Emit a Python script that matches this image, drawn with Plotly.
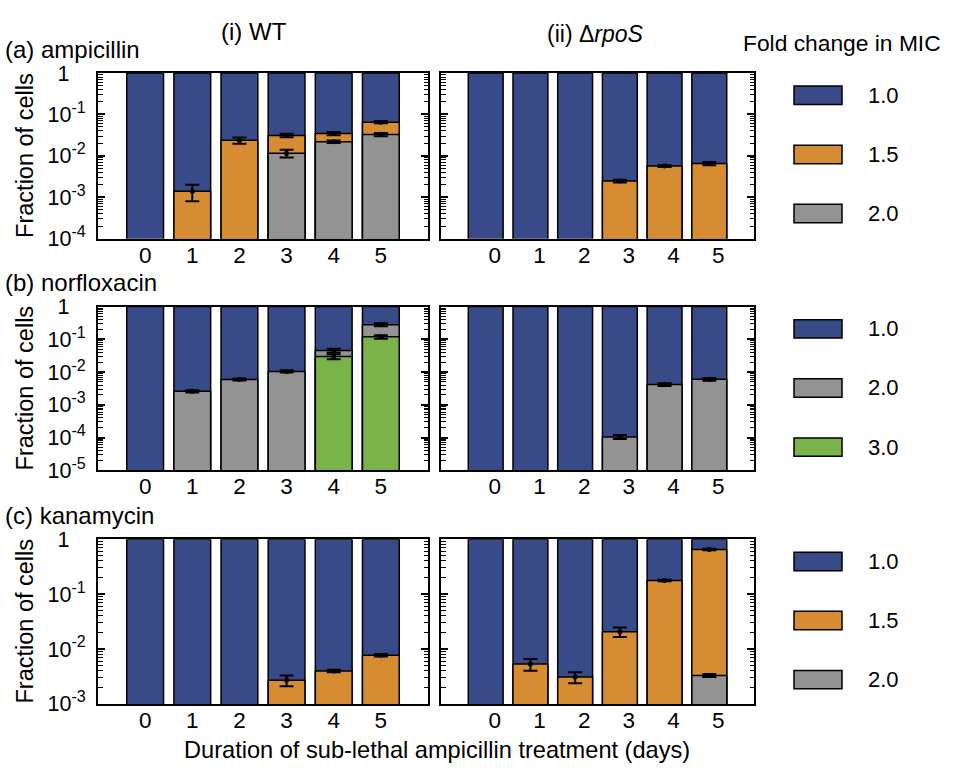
import plotly.graph_objects as go

days = [0, 1, 2, 3, 4, 5]
day_labels = ["0", "1", "2", "3", "4", "5"]

# fraction of cells with fold change >= 1.0 (i.e. all cells)
all_cells = [1, 1, 1, 1, 1, 1]

# (a) ampicillin: fraction of cells at or above each fold change in MIC
amp_wt_ge15 = [None, 0.0014, 0.0237, 0.031, 0.0346, 0.065]
amp_wt_ge15_err = [None, 0.0006, 0.004, 0.003, 0.003, 0.004]
amp_wt_ge20 = [None, None, None, 0.0116, 0.022, 0.0328]
amp_wt_ge20_err = [None, None, None, 0.0024, 0.0015, 0.003]
amp_rpos_ge15 = [None, None, None, 0.00247, 0.00567, 0.00655]
amp_rpos_ge15_err = [None, None, None, 0.0002, 0.0003, 0.0006]

# (b) norfloxacin
nor_wt_ge20 = [None, 0.00258, 0.00597, 0.0105, 0.0459, 0.281]
nor_wt_ge20_err = [None, 0.0002, 0.0004, 0.0008, 0.006, 0.03]
nor_wt_ge30 = [None, None, None, None, 0.0298, 0.119]
nor_wt_ge30_err = [None, None, None, None, 0.005, 0.015]
nor_rpos_ge20 = [None, None, None, 0.000105, 0.00416, 0.0060]
nor_rpos_ge20_err = [None, None, None, 0.000015, 0.0004, 0.0006]

# (c) kanamycin
kan_wt_ge15 = [None, None, None, 0.00269, 0.00398, 0.0077]
kan_wt_ge15_err = [None, None, None, 0.0006, 0.0002, 0.0004]
kan_rpos_ge15 = [None, 0.0053, 0.00308, 0.0205, 0.177, 0.648]
kan_rpos_ge15_err = [None, 0.0013, 0.0007, 0.004, 0.006, 0.02]
kan_rpos_ge20 = [None, None, None, None, None, 0.0033]
kan_rpos_ge20_err = [None, None, None, None, None, 0.0002]

row_titles = ["(a) ampicillin", "(b) norfloxacin", "(c) kanamycin"]
col_titles = ["(i) WT", "(ii) \u0394<i>rpoS</i>"]
row_levels = [["1.0", "1.5", "2.0"], ["1.0", "2.0", "3.0"], ["1.0", "1.5", "2.0"]]
row_decades = [4, 5, 3]
legend_title = "Fold change in MIC"
x_title = "Duration of sub-lethal ampicillin treatment (days)"
y_title = "Fraction of cells"

COLORS = {"1.0": "#384a88", "1.5": "#d68c32", "2.0": "#939393", "3.0": "#7bb34b"}
FONT = "Liberation Sans, Arial, Helvetica, sans-serif"

panels = [
    [  # row a
        [("1.5", amp_wt_ge15, amp_wt_ge15_err), ("2.0", amp_wt_ge20, amp_wt_ge20_err)],
        [("1.5", amp_rpos_ge15, amp_rpos_ge15_err)],
    ],
    [  # row b
        [("2.0", nor_wt_ge20, nor_wt_ge20_err), ("3.0", nor_wt_ge30, nor_wt_ge30_err)],
        [("2.0", nor_rpos_ge20, nor_rpos_ge20_err)],
    ],
    [  # row c
        [("1.5", kan_wt_ge15, kan_wt_ge15_err)],
        [("1.5", kan_rpos_ge15, kan_rpos_ge15_err), ("2.0", kan_rpos_ge20, kan_rpos_ge20_err)],
    ],
]

W, H = 971, 776
col_px = [(98, 428), (441, 754)]
row_px = [(64, 235), (305, 474), (545, 715)]


def px_x(v):
    return v / W


def px_y(v):
    return 1 - v / H


def font(size):
    return dict(size=size, color="black", family=FONT)


fig = go.Figure()
layout = {}
annotations = []
shapes = []

ax = 0
for r in range(3):
    for c in range(2):
        ax += 1
        xa = "x" if ax == 1 else f"x{ax}"
        ya = "y" if ax == 1 else f"y{ax}"
        # full bar (fold change 1.0)
        fig.add_trace(go.Bar(
            x=days, y=all_cells, xaxis=xa, yaxis=ya, width=0.78,
            marker=dict(color=COLORS["1.0"], line=dict(color="black", width=1.5)),
            showlegend=False, hoverinfo="skip"))
        for level, vals, errs in panels[r][c]:
            fig.add_trace(go.Bar(
                x=days, y=vals, xaxis=xa, yaxis=ya, width=0.78,
                marker=dict(color=COLORS[level], line=dict(color="black", width=1.5)),
                showlegend=False, hoverinfo="skip"))
        for level, vals, errs in panels[r][c]:
            fig.add_trace(go.Scatter(
                x=days, y=vals, xaxis=xa, yaxis=ya, mode="markers",
                marker=dict(color="black", size=5),
                error_y=dict(type="data", array=errs, color="black", thickness=2, width=7),
                showlegend=False, hoverinfo="skip"))

        nd = row_decades[r]
        tv = [10 ** (-k) for k in range(nd + 1)]
        tt = ["1\u00a0\u00a0\u2009"] + [
            f"10<sup><span style='font-size:16px'>-{k}</span></sup>" for k in range(1, nd + 1)]
        minor_vals = [m * 10 ** (-k) for k in range(1, nd + 1) for m in range(2, 10)]
        x0, x1 = col_px[c]
        y0, y1 = row_px[r]
        key_x = "xaxis" if ax == 1 else f"xaxis{ax}"
        key_y = "yaxis" if ax == 1 else f"yaxis{ax}"
        layout[key_x] = dict(
            domain=[px_x(x0), px_x(x1)], anchor=ya, range=[-1, 6],
            tickvals=days, ticktext=day_labels, ticks="",
            showline=True, linecolor="black", linewidth=2, mirror=True,
            showgrid=False, zeroline=False, fixedrange=True,
            tickfont=font(22.5),
            ticklabelshift=(9 if c == 1 else 0),
            ticklabelstandoff=-5,
        )
        layout[key_y] = dict(
            domain=[px_y(y1), px_y(y0)], anchor=xa, type="log", range=[-nd, 0],
            tickmode="array", tickvals=tv, ticktext=tt,
            showticklabels=(c == 0),
            ticks="inside", ticklen=7, tickwidth=1.5, tickcolor="black",
            minor=dict(tickmode="array", tickvals=minor_vals, ticks="inside", ticklen=4.5,
                       tickwidth=1.2, tickcolor="black", showgrid=False),
            showline=True, linecolor="black", linewidth=2, mirror="allticks",
            showgrid=False, zeroline=False, fixedrange=True,
            tickfont=font(21.5),
            ticklabelstandoff=6,
        )

    # row title
    annotations.append(dict(text=row_titles[r], x=px_x(3), y=px_y([40, 280, 521][r]),
                            xref="paper", yref="paper", xanchor="left", yanchor="middle",
                            showarrow=False, font=font(24)))
    # y title
    yc = (row_px[r][0] + row_px[r][1]) / 2
    annotations.append(dict(text=y_title, x=px_x(25), y=px_y(yc), textangle=-90,
                            xref="paper", yref="paper", xanchor="center", yanchor="middle",
                            showarrow=False, font=font(23.5)))
    # legend swatches
    for i, level in enumerate(row_levels[r]):
        cy = row_px[r][0] + 23 + i * 61
        shapes.append(dict(type="rect", xref="paper", yref="paper",
                           x0=px_x(794), x1=px_x(842), y0=px_y(cy + 9.5), y1=px_y(cy - 9.5),
                           fillcolor=COLORS[level], line=dict(color="black", width=1.5)))
        annotations.append(dict(text=level, x=px_x(866), y=px_y(cy),
                                xref="paper", yref="paper", xanchor="left", yanchor="middle",
                                showarrow=False, font=font(22)))

# column titles
annotations.append(dict(text=col_titles[0], x=px_x(254), y=px_y(21), xref="paper", yref="paper",
                        xanchor="center", yanchor="middle", showarrow=False, font=font(24)))
annotations.append(dict(text=col_titles[1], x=px_x(595), y=px_y(24), xref="paper", yref="paper",
                        xanchor="center", yanchor="middle", showarrow=False, font=font(23)))
# legend title
annotations.append(dict(text=legend_title, x=px_x(741), y=px_y(33), xref="paper", yref="paper",
                        xanchor="left", yanchor="middle", showarrow=False, font=font(22.8)))
# x title
annotations.append(dict(text=x_title, x=px_x(437), y=px_y(763), xref="paper", yref="paper",
                        xanchor="center", yanchor="middle", showarrow=False, font=font(23.6)))

fig.update_layout(
    width=W, height=H, margin=dict(l=0, r=0, t=0, b=0),
    paper_bgcolor="white", plot_bgcolor="white",
    barmode="overlay", showlegend=False,
    font=font(22),
    annotations=annotations, shapes=shapes,
    **layout,
)

fig.write_html("out.html", config={"displayModeBar": False})
